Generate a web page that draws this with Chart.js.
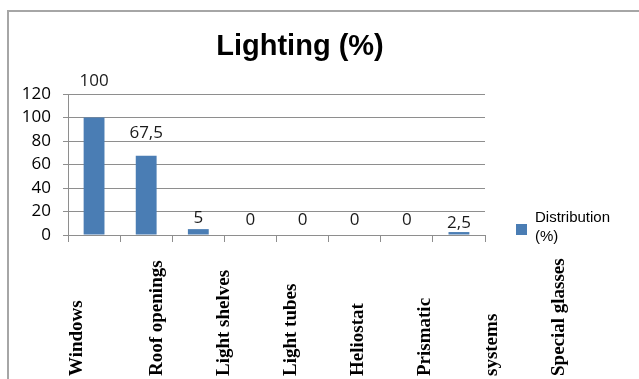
<!DOCTYPE html>
<html>
<head>
<meta charset="utf-8">
<title>Lighting (%)</title>
<script src="https://cdn.jsdelivr.net/npm/chart.js@4"></script>
<style>
  html, body { margin: 0; padding: 0; background: #fff; }
  #lightingChart { display: block; }
</style>
</head>
<body>
<canvas id="lightingChart" width="639" height="379"></canvas>
<script>
// categories and values
const categories = ["Windows", "Roof openings", "Light shelves", "Light tubes",
                    "Heliostat", "Prismatic", "systems", "Special glasses"];
const distribution = [100, 67.5, 5, 0, 0, 0, 0, 2.5];
const seriesName = ["Distribution", "(%)"];
const chartTitle = "Lighting (%)";
const yMin = 0, yMax = 120, yStep = 20;

// how far above each bar its value label sits
const labelLift = [36, 23, 11, 15, 15, 15, 15, 9];

const barColor = "#4a7db4";
const gridColor = "#8e8e8e";
const numFont = '"Open Sans", sans-serif';

// frame around the whole chart, plus the title
const framePlugin = {
    id: "frame",
    beforeDraw(chart) {
        const c = chart.ctx;
        c.save();
        c.strokeStyle = "#a6a6a6";
        c.lineWidth = 2;
        c.beginPath();
        c.moveTo(8, chart.height);
        c.lineTo(8, 11);
        c.lineTo(chart.width, 11);
        c.stroke();

        c.font = 'bold 29px "Liberation Sans", Arial, sans-serif';
        c.fillStyle = "#000";
        c.textAlign = "center";
        c.textBaseline = "middle";
        c.fillText(chartTitle, 300, 47);
        c.restore();
    }
};

// value labels above the bars, with comma decimals
const valueLabels = {
    id: "valueLabels",
    afterDatasetsDraw(chart) {
        const c = chart.ctx;
        const meta = chart.getDatasetMeta(0);
        c.save();
        c.font = "17px " + numFont;
        c.fillStyle = "#1a1a1a";
        c.textAlign = "center";
        c.textBaseline = "middle";
        meta.data.forEach((bar, i) => {
            const txt = String(distribution[i]).replace(".", ",");
            c.fillText(txt, bar.x, bar.y - labelLift[i]);
        });
        c.restore();
    }
};

// rotated category names under the axis
const categoryNames = {
    id: "categoryNames",
    afterDraw(chart) {
        const c = chart.ctx;
        c.save();
        c.font = 'bold 19px "Liberation Serif", "Times New Roman", serif';
        c.fillStyle = "#000";
        c.textAlign = "left";
        c.textBaseline = "alphabetic";
        categories.forEach((name, i) => {
            const x = i === 0 ? 82 : 95 + 67 * i;
            c.save();
            c.translate(x, 376);
            c.rotate(-Math.PI / 2);
            c.fillText(name, 0, 0);
            c.restore();
        });
        c.restore();
    }
};

// legend entry to the right of the plot
const sideLegend = {
    id: "sideLegend",
    afterDraw(chart) {
        const c = chart.ctx;
        c.save();
        c.fillStyle = barColor;
        c.fillRect(516, 224, 11, 11);
        c.font = '15px "Liberation Sans", Arial, sans-serif';
        c.fillStyle = "#000";
        c.textAlign = "left";
        c.textBaseline = "middle";
        c.fillText(seriesName[0], 535, 218);
        c.fillText(seriesName[1], 535, 237);
        c.restore();
    }
};

new Chart(document.getElementById("lightingChart").getContext("2d"), {
    type: "bar",
    data: {
        labels: categories,
        datasets: [{
            label: seriesName.join(" "),
            data: distribution,
            backgroundColor: barColor,
            borderWidth: 0,
            categoryPercentage: 1,
            barPercentage: 0.4,
        }],
    },
    options: {
        responsive: false,
        animation: false,
        layout: { padding: { top: 94, right: 154, bottom: 0, left: 0 } },
        plugins: {
            legend: { display: false },
            tooltip: { enabled: false },
            title: { display: false },
        },
        scales: {
            x: {
                afterFit(scale) { scale.height = 144; },
                grid: {
                    offset: true,
                    drawOnChartArea: false,
                    drawTicks: true,
                    tickLength: 7,
                    color: gridColor,
                },
                border: { display: true, color: gridColor },
                ticks: { display: false },
            },
            y: {
                min: yMin,
                max: yMax,
                afterFit(scale) { scale.width = 68; },
                grid: { color: gridColor, tickLength: 5 },
                border: { display: true, color: gridColor },
                ticks: {
                    stepSize: yStep,
                    padding: 12,
                    color: "#000",
                    font: { family: numFont, size: 17 },
                },
            },
        },
    },
    plugins: [framePlugin, valueLabels, categoryNames, sideLegend],
});
</script>
</body>
</html>
